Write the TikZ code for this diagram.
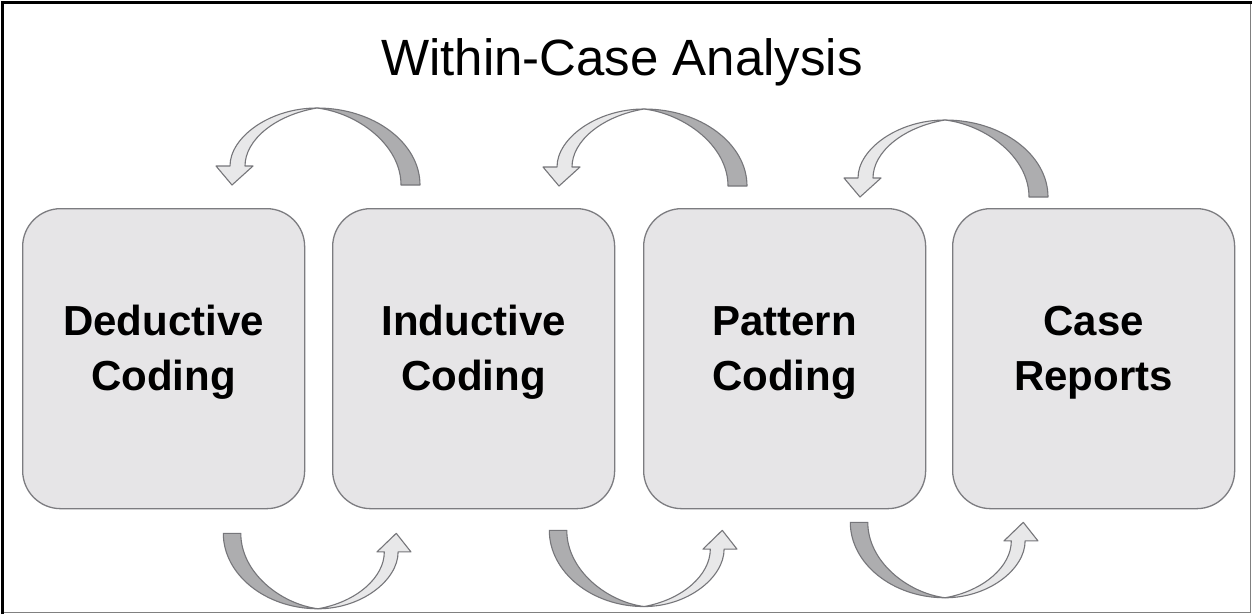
\documentclass[tikz,border=0pt]{standalone}
\usepackage{fontspec}
\setmainfont{Liberation Sans}
\usetikzlibrary{calc}
\definecolor{boxfill}{HTML}{E6E5E7}
\definecolor{boxline}{HTML}{7C7C80}
\definecolor{darkband}{HTML}{ADADAF}
\definecolor{lightband}{HTML}{E8E8E9}
\definecolor{arrowedge}{HTML}{76767A}
\tikzset{
  stagebox/.style={draw=boxline, line width=1.3pt, fill=boxfill, rounded corners=38pt,
    minimum width=282pt, minimum height=300pt, inner sep=0pt, anchor=north west},
  stagetext/.style={align=center, font=\fontsize{42}{55}\selectfont\bfseries, inner sep=0pt},
  arrowline/.style={draw=arrowedge, line width=1.1pt, line join=round},
}
% curved block arrow in local coordinates: tail at origin, head towards +x, peak towards +y
\newcommand{\bandarrow}{%
  \fill[darkband] (0,0) .. controls (0,42) and (46,77) .. (103,77)
    .. controls (62,72) and (19,40) .. (19,0) -- cycle;
  \draw[arrowline] (0,0) .. controls (0,42) and (46,77) .. (103,77)
    .. controls (62,72) and (19,40) .. (19,0) -- cycle;
  \fill[lightband] (103,77) .. controls (150,77) and (190,48) .. (190,19)
    -- (204,19) -- (188,0) -- (167,19) -- (175,19)
    .. controls (175,45) and (145,70) .. (103,77) -- cycle;
  \draw[arrowline] (103,77) .. controls (150,77) and (190,48) .. (190,19)
    -- (204,19) -- (188,0) -- (167,19) -- (175,19)
    .. controls (175,45) and (145,70) .. (103,77) -- cycle;
}
\begin{document}
\begin{tikzpicture}[x=1pt,y=-1pt]
\useasboundingbox (0,0) rectangle (1252,614);
\fill[white] (0,0) rectangle (1252,614);
% frame
\draw[gray, line width=1.5pt] (1250.5,3) -- (1250.5,612.5) -- (3,612.5);
\draw[black, line width=3pt] (2.5,614) -- (2.5,2.5) -- (1252,2.5);
% title
\node[anchor=base, font=\fontsize{51}{60}\selectfont, inner sep=0pt] (title) at (622,75) {Within-Case Analysis};
% boxes
\node[stagebox] (b1) at (22,208) {};
\node[stagebox] (b2) at (332,208) {};
\node[stagebox] (b3) at (643,208) {};
\node[stagebox] (b4) at (952,208) {};
\node[stagetext] (t1) at ($(b1.center)+(0,-6)$) {Deductive\\Coding};
\node[stagetext] (t2) at ($(b2.center)+(0,-6)$) {Inductive\\Coding};
\node[stagetext] (t3) at ($(b3.center)+(0,-6)$) {Pattern\\Coding};
\node[stagetext] (t4) at ($(b4.center)+(0,-6)$) {Case\\Reports};
% top arrows (right to left over the top)
\begin{scope}[shift={($(b2.north west)+(88,-23)$)}, xscale=-1, yscale=-1] \bandarrow \end{scope}
\begin{scope}[shift={($(b3.north west)+(104,-22)$)}, xscale=-1, yscale=-1] \bandarrow \end{scope}
\begin{scope}[shift={($(b4.north west)+(96,-11)$)}, xscale=-1, yscale=-1] \bandarrow \end{scope}
% bottom arrows (left to right under the bottom)
\begin{scope}[shift={($(b1.south east)+(-82,24)$)}, xscale=0.92, yscale=0.98] \bandarrow \end{scope}
\begin{scope}[shift={($(b2.south east)+(-66,21)$)}, xscale=0.92, yscale=0.99] \bandarrow \end{scope}
\begin{scope}[shift={($(b3.south east)+(-76,13)$)}, xscale=0.92, yscale=0.98] \bandarrow \end{scope}
\end{tikzpicture}
\end{document}
